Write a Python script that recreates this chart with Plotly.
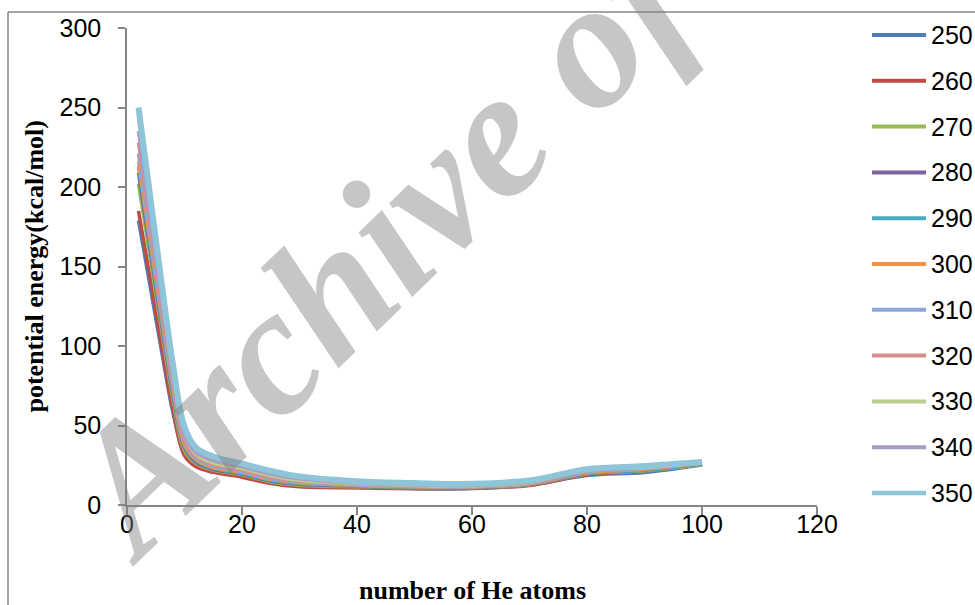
import plotly.graph_objects as go

# ---- data ----
x_atoms = [2, 4, 6, 8, 10, 12, 15, 20, 25, 30, 40, 50, 60, 70, 80, 90, 100]
temps = ["250", "260", "270", "280", "290", "300", "310", "320", "330", "340", "350"]

e250 = [179, 138, 97, 58, 32, 25, 21.5, 18.5, 14, 12, 11, 10.2, 10.3, 12.5, 18.5, 20.5, 25.2]
e260 = [185, 143, 100, 60, 31, 24, 20.5, 17.5, 13.5, 11.5, 10.8, 10.3, 10.5, 12.3, 19, 21.5, 26]
e270 = [202, 156, 110, 66, 34, 26, 22, 19, 14.5, 12.5, 11.5, 10.8, 10.8, 12.8, 19.5, 21.5, 25.5]
e280 = [209, 161, 114, 69, 36, 27, 22.5, 19.5, 15, 13, 11.8, 11, 11, 13, 19.8, 22, 26]
e290 = [213, 164, 116, 71, 37, 28, 23, 20, 15.5, 13.5, 12, 11.2, 11.2, 13.2, 20, 22, 26]
e300 = [216, 167, 119, 73, 38, 28.5, 23.5, 20.5, 16, 14, 12.3, 11.4, 11.3, 13.3, 20.3, 22.5, 26.2]
e310 = [221, 171, 122, 75, 40, 29.5, 24.5, 21, 16.5, 14.5, 12.6, 11.7, 11.5, 13.5, 20.8, 23, 26.5]
e320 = [228, 176, 126, 78, 41, 30.5, 25.5, 22, 17.5, 15, 13, 12, 11.8, 13.8, 21.5, 24.5, 27.5]
e330 = [243, 187, 134, 83, 44, 32, 26.5, 23, 18.5, 15.5, 13.3, 12.3, 12, 14.2, 22.5, 23.5, 26.8]
e340 = [235, 182, 131, 82, 44, 33, 28, 24, 19.5, 16.5, 13.8, 12.7, 12.3, 14.5, 22, 24, 27.3]
e350 = [250, 195, 140, 88, 49, 36, 30.5, 26, 21.5, 18, 15, 13.8, 13.3, 15.5, 22.5, 24.5, 27]

series = [e250, e260, e270, e280, e290, e300, e310, e320, e330, e340, e350]
colors = ["#4A7EBB", "#BE4B48", "#98B954", "#7D60A0", "#46AAC5", "#F69240",
          "#8BA7D6", "#D98D8B", "#B9D08F", "#A99CC4", "#8FC5D8"]

x_ticks = [0, 20, 40, 60, 80, 100, 120]
y_ticks = [0, 50, 100, 150, 200, 250, 300]

# ---- layout geometry (pixels) ----
W, H = 975, 605
L, R, T, B = 127, 817, 28, 505


def px(xp):
    return (xp - L) / (R - L)


def py(yp):
    return (B - yp) / (B - T)


fig = go.Figure()
for name, vals, col in zip(temps, series, colors):
    fig.add_trace(go.Scatter(
        x=x_atoms, y=vals, name=name, mode="lines",
        line=dict(color=col, width=6 if name == "350" else 3.5, shape="spline", smoothing=1.0),
        showlegend=False,
    ))

axcol = "#868686"
shapes = [
    dict(type="line", xref="paper", yref="paper", x0=px(8), x1=px(980), y0=py(12), y1=py(12),
         line=dict(color=axcol, width=1.5)),
    dict(type="line", xref="paper", yref="paper", x0=px(8), x1=px(8), y0=py(12), y1=py(610),
         line=dict(color=axcol, width=1.5)),
]
annotations = [
    dict(text="<b>potential energy(kcal/mol)</b>", xref="paper", yref="paper",
         x=px(34), y=0.5, xanchor="center", yanchor="middle", textangle=-90, showarrow=False,
         font=dict(family="Liberation Serif, Times New Roman", size=26, color="black")),
    dict(text="<b>number of He atoms</b>", xref="paper", yref="paper",
         x=px(472), y=py(590), xanchor="center", yanchor="middle", showarrow=False,
         font=dict(family="Liberation Serif, Times New Roman", size=26, color="black")),
]

# legend (drawn as key lines + labels)
for i, (name, col) in enumerate(zip(temps, colors)):
    yy = py(35 + 45.8 * i)
    shapes.append(dict(type="line", xref="paper", yref="paper", x0=px(872), x1=px(926),
                       y0=yy, y1=yy, line=dict(color=col, width=4.5 if name == "350" else 4)))
    annotations.append(dict(text=name, xref="paper", yref="paper", x=px(929), y=yy,
                            xanchor="left", yanchor="middle", showarrow=False,
                            font=dict(family="Liberation Sans, Arial", size=25, color="black")))

# watermark
annotations.append(dict(text="<b><i>Archive of</i></b>", xref="paper", yref="paper",
                        x=px(380), y=py(242), xanchor="center", yanchor="middle",
                        textangle=-44, showarrow=False,
                        font=dict(family="Liberation Serif", size=182,
                                  color="rgba(128,128,128,0.45)", style="italic", weight="bold")))

fig.update_layout(
    width=W, height=H,
    margin=dict(l=L, r=W - R, t=T, b=H - B, pad=0),
    paper_bgcolor="white", plot_bgcolor="white",
    showlegend=False,
    xaxis=dict(
        range=[0, 120], tickvals=x_ticks, showgrid=False, zeroline=False,
        showline=True, linecolor=axcol, linewidth=1.5,
        ticks="outside", ticklen=8, tickwidth=1.5, tickcolor=axcol,
        ticklabelstandoff=-12,
        tickfont=dict(family="Liberation Sans, Arial", size=25, color="black"),
    ),
    yaxis=dict(
        range=[0, 300], tickvals=y_ticks, showgrid=False, zeroline=False,
        showline=True, linecolor=axcol, linewidth=1.5,
        ticks="outside", ticklen=7, tickwidth=1.5, tickcolor=axcol,
        ticklabelstandoff=12,
        tickfont=dict(family="Liberation Sans, Arial", size=25, color="black"),
    ),
    shapes=shapes,
    annotations=annotations,
)

fig.write_html("out.html")
